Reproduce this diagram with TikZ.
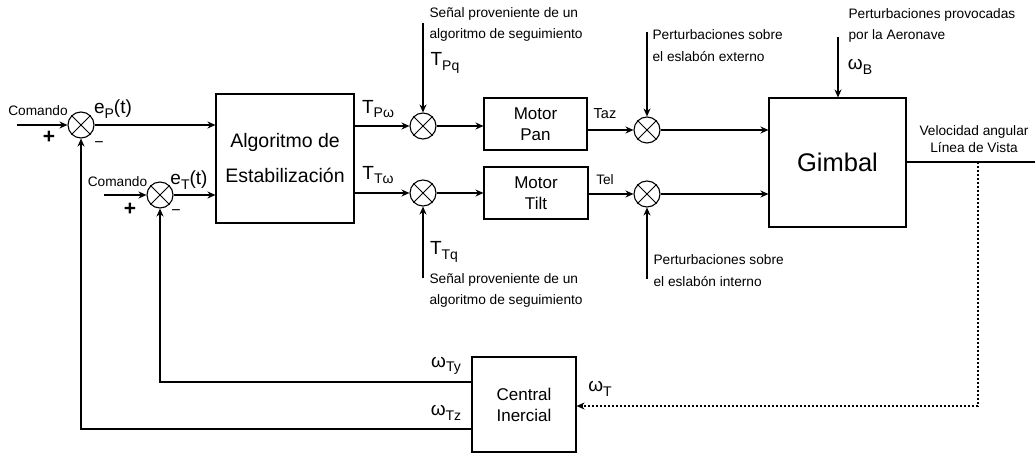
\documentclass[tikz,border=0pt]{standalone}
\usepackage{fontspec}
\setmainfont{Liberation Sans}
\usetikzlibrary{arrows.meta}
\newcommand{\lowsub}[1]{\raisebox{-0.45ex}{\fontsize{14}{14}\selectfont #1}}
\begin{document}
\begin{tikzpicture}[x=1pt,y=-1pt,line width=1.1pt,
    block/.style={draw,inner sep=0pt,align=center},
    sum/.style={draw,circle,minimum size=26pt,inner sep=0pt},
    arr/.style={-{Stealth[length=8pt,width=7pt]}},
    dotarr/.style={arr,dash pattern=on 2pt off 2pt},
    note/.style={font=\fontsize{13.7}{21}\selectfont,align=left,anchor=west,inner sep=0pt},
    small/.style={font=\fontsize{13.7}{14}\selectfont,inner sep=0pt},
    sig/.style={font=\fontsize{19}{19}\selectfont,inner sep=0pt},
    sign/.style={font=\fontsize{21}{21}\selectfont\bfseries,inner sep=0pt}]
    \useasboundingbox (0,0) rectangle (1035,454);
    \node[block,minimum width=138pt,minimum height=129pt,font=\fontsize{19.5}{35}\selectfont] (alg) at (285,158.5) {Algoritmo de\\Estabilización};
    \node[block,minimum width=103pt,minimum height=52pt,font=\fontsize{17}{21}\selectfont] (pan) at (535.5,124) {Motor\\Pan};
    \node[block,minimum width=104pt,minimum height=52pt,font=\fontsize{17}{21}\selectfont] (tilt) at (536,193) {Motor\\Tilt};
    \node[block,minimum width=137pt,minimum height=129pt,font=\fontsize{25.5}{26}\selectfont] (gim) at (837.5,162.5) {Gimbal};
    \node[block,minimum width=104pt,minimum height=95pt,font=\fontsize{17}{21}\selectfont] (ins) at (524,404.5) {Central\\Inercial};
    \node[sum] (sump) at (81,125) {};
    \node[sum] (sumt) at (160,195) {};
    \node[sum] (sumpq) at (423,126) {};
    \node[sum] (sumtq) at (423,193) {};
    \node[sum] (sumpd) at (647,130) {};
    \node[sum] (sumtd) at (647,194) {};
    \foreach \s in {sump,sumt,sumpq,sumtq,sumpd,sumtd}
      \draw[line width=0.9pt] (\s.north west) -- (\s.south east) (\s.north east) -- (\s.south west);
    \coordinate (cmdp) at (17,125);
    \coordinate (cmdt) at (104,195);
    \coordinate (qtop) at (423,23);
    \coordinate (qbot) at (423,278);
    \coordinate (dtop) at (647,32);
    \coordinate (dbot) at (647,279);
    \coordinate (wtop) at (838,37);
    \coordinate (tap) at (978,162);
    \coordinate (out) at (1035,162);
    \node[small] (cmdplbl) at (38,111) {Comando};
    \node[small] (cmdtlbl) at (117.5,182) {Comando};
    \node[sign] (plusp) at (49,137) {+};
    \node[sign] (plust) at (130,209) {+};
    \node[font=\fontsize{16}{16}\selectfont,inner sep=0pt] (minp) at (99,145) {−};
    \node[font=\fontsize{16}{16}\selectfont,inner sep=0pt] (mint) at (176,213) {−};
    \node[sig] (ep) at (113,109) {e\lowsub{P}(t)};
    \node[sig] (et) at (189,180) {e\lowsub{T}(t)};
    \node[sig] (tpw) at (378,109) {T\lowsub{Pω}};
    \node[sig] (ttw) at (378,175) {T\lowsub{Tω}};
    \node[sig] (tpq) at (445,63) {T\lowsub{Pq}};
    \node[sig] (ttq) at (444,252) {T\lowsub{Tq}};
    \node[sig] (wb) at (860,67) {ω\lowsub{B}};
    \node[sig] (wt) at (600,389) {ω\lowsub{T}};
    \node[sig] (wty) at (446,366) {ω\lowsub{Ty}};
    \node[sig] (wtz) at (446,413) {ω\lowsub{Tz}};
    \node[small,font=\fontsize{14.5}{15}\selectfont] (taz) at (605,114) {Taz};
    \node[small] (tel) at (605,180) {Tel};
    \node[note] (segp) at (429,24) {Señal proveniente de un\\algoritmo de seguimiento};
    \node[note] (segt) at (429,290) {Señal proveniente de un\\algoritmo de seguimiento};
    \node[note,font=\fontsize{13.7}{22}\selectfont] (pext) at (652,46) {Perturbaciones sobre\\el eslabón externo};
    \node[note,font=\fontsize{13.7}{22}\selectfont] (pint) at (653,271) {Perturbaciones sobre\\el eslabón interno};
    \node[note] (paer) at (848,25.5) {Perturbaciones provocadas\\por la Aeronave};
    \node[note,align=center,anchor=center,font=\fontsize{13.7}{17}\selectfont] (vel) at (974,139.5) {Velocidad angular\\Línea de Vista};
    \draw[arr] (cmdp) -- (sump);
    \draw[arr] (cmdt) -- (sumt);
    \draw[arr] (sump) -- (sump -| alg.west);
    \draw[arr] (sumt) -- (sumt -| alg.west);
    \draw[arr] (alg.east |- sumpq) -- (sumpq);
    \draw[arr] (alg.east |- sumtq) -- (sumtq);
    \draw[arr] (sumpq) -- (sumpq -| pan.west);
    \draw[arr] (sumtq) -- (sumtq -| tilt.west);
    \draw[arr] (pan.east |- sumpd) -- (sumpd);
    \draw[arr] (tilt.east |- sumtd) -- (sumtd);
    \draw[arr] (sumpd) -- (sumpd -| gim.west);
    \draw[arr] (sumtd) -- (sumtd -| gim.west);
    \draw[arr] (qtop) -- (sumpq);
    \draw[arr] (qbot) -- (sumtq);
    \draw[arr] (dtop) -- (sumpd);
    \draw[arr] (dbot) -- (sumtd);
    \draw[arr] (wtop) -- (wtop |- gim.north);
    \draw (gim.east |- out) -- (out);
    \draw[dotarr] (tap) |- ([yshift=-1.5pt]ins.east);
    \draw[arr] ([yshift=22.5pt]ins.west) -| (sumt);
    \draw[arr] ([yshift=-24.5pt]ins.west) -| (sump);
\end{tikzpicture}
\end{document}
